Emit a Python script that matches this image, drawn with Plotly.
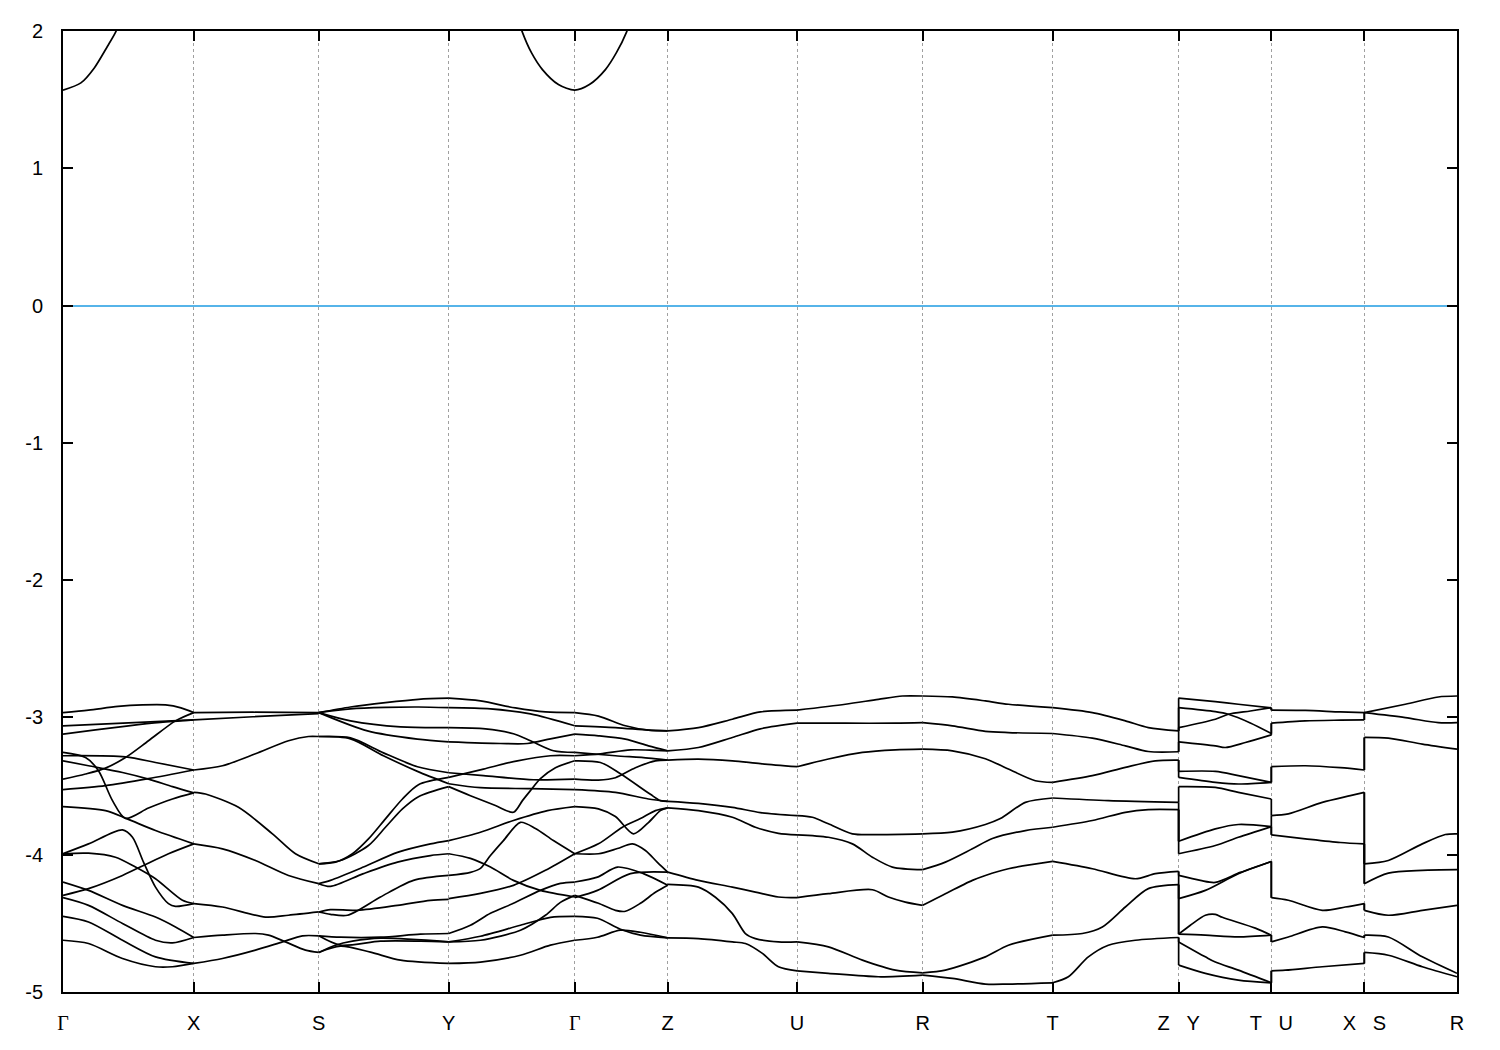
import plotly.graph_objects as go

# ---------------- data ----------------
K_NODES = [0.0, 1.308, 2.558, 3.858, 5.118, 6.048, 7.342, 8.598, 9.898, 11.158, 12.085, 13.015, 13.942]
NBSP3 = "\u00a0\u00a0\u00a0"
GAMMA = '<span style="font-family:Liberation Serif, DejaVu Serif, serif">Γ</span>'
K_LABELS = [GAMMA, "X", "S", "Y", GAMMA, "Z", "U", "R", "T",
            "Z" + NBSP3 + "Y", "T" + NBSP3 + "U", "X" + NBSP3 + "S", "R"]
Y_TICKS = [-5, -4, -3, -2, -1, 0, 1, 2]
Y_LABELS = ["-5", "-4", "-3", "-2", "-1", "0", "1", "2"]

# conduction band (k, E)
CB_1 = [(0.0, 1.569), (0.179, 1.622), (0.313, 1.731), (0.445, 1.889), (0.525, 1.990), (0.575, 2.08)]
CB_2 = [(4.555, 2.08), (4.595, 1.990), (4.685, 1.842), (4.795, 1.719), (4.955, 1.610), (5.118, 1.569),
        (5.265, 1.610), (5.425, 1.719), (5.535, 1.842), (5.635, 1.990), (5.675, 2.08)]

# valence bands, one list of curves per path segment: (k, E)
SEG_GX = [
    [(0, -2.965), (0.255, -2.947), (0.55, -2.92), (0.795, -2.909), (1.025, -2.909), (1.18, -2.93), (1.308, -2.965)],
    [(0, -3.061), (0.655, -3.040), (1.308, -3.018)],
    [(0, -3.122), (0.325, -3.091), (0.655, -3.061), (0.975, -3.036), (1.308, -3.018)],
    [(0, -3.449), (0.225, -3.412), (0.425, -3.369), (0.625, -3.292), (0.855, -3.170), (1.125, -3.025), (1.308, -2.965)],
    [(0, -3.255), (0.225, -3.292), (0.355, -3.388), (0.495, -3.606), (0.625, -3.735), (0.855, -3.66), (1.095, -3.594), (1.308, -3.55)],
    [(0, -3.650), (0.425, -3.679), (0.642, -3.739), (0.925, -3.824), (1.308, -3.921)],
    [(0, -3.279), (0.625, -3.287), (0.925, -3.328), (1.308, -3.383)],
    [(0, -3.526), (0.425, -3.497), (0.855, -3.446), (1.308, -3.383)],
    [(0, -3.316), (0.255, -3.352), (0.595, -3.401), (0.855, -3.449), (1.095, -3.504), (1.308, -3.55)],
    [(0, -3.993), (0.255, -3.921), (0.595, -3.819), (0.695, -3.873), (0.805, -4.054), (0.925, -4.236), (1.055, -4.356), (1.125, -4.376), (1.308, -4.356)],
    [(0, -3.993), (0.255, -3.989), (0.525, -4.018), (0.725, -4.090), (0.925, -4.175), (1.195, -4.332), (1.308, -4.356)],
    [(0, -4.296), (0.255, -4.247), (0.595, -4.151), (0.805, -4.078), (1.055, -3.993), (1.308, -3.921)],
    [(0, -4.199), (0.255, -4.260), (0.595, -4.369), (0.925, -4.454), (1.125, -4.526), (1.308, -4.603)],
    [(0, -4.313), (0.255, -4.369), (0.595, -4.501), (0.925, -4.623), (1.095, -4.642), (1.308, -4.603)],
    [(0, -4.449), (0.255, -4.490), (0.595, -4.623), (0.925, -4.744), (1.308, -4.792)],
    [(0, -4.623), (0.255, -4.647), (0.595, -4.756), (0.925, -4.816), (1.095, -4.816), (1.308, -4.792)],
]
SEG_XS = [
    [(1.308, -2.965), (1.9, -2.962), (2.558, -2.965)],
    [(1.308, -3.018), (1.9, -2.995), (2.558, -2.972)],
    [(1.308, -3.383), (1.595, -3.352), (1.925, -3.265), (2.255, -3.170), (2.455, -3.139), (2.558, -3.139)],
    [(1.308, -3.546), (1.425, -3.558), (1.755, -3.655), (2.095, -3.848), (2.325, -3.993), (2.558, -4.066)],
    [(1.308, -3.921), (1.595, -3.957), (1.925, -4.042), (2.255, -4.151), (2.558, -4.211)],
    [(1.308, -4.356), (1.595, -4.381), (2.025, -4.454), (2.255, -4.441), (2.558, -4.417)],
    [(1.308, -4.603), (1.595, -4.586), (1.925, -4.574), (2.055, -4.586), (2.225, -4.635), (2.425, -4.695), (2.558, -4.712)],
    [(1.308, -4.792), (1.595, -4.756), (1.925, -4.695), (2.195, -4.635), (2.395, -4.591), (2.558, -4.591)],
]
SEG_SY = [
    [(2.558, -2.965), (2.875, -2.924), (3.225, -2.892), (3.555, -2.868), (3.858, -2.860)],
    [(2.558, -2.965), (2.875, -2.938), (3.225, -2.927), (3.555, -2.924), (3.858, -2.929)],
    [(2.558, -2.965), (2.875, -3.025), (3.375, -3.069), (3.858, -3.074)],
    [(2.558, -2.965), (3.045, -3.098), (3.545, -3.158), (3.858, -3.178)],
    [(2.558, -3.139), (2.875, -3.149), (3.205, -3.258), (3.545, -3.359), (3.858, -3.403)],
    [(2.558, -3.139), (2.875, -3.156), (3.205, -3.279), (3.545, -3.393), (3.858, -3.483)],
    [(2.558, -4.066), (2.725, -4.054), (2.895, -3.993), (3.055, -3.885), (3.225, -3.739), (3.395, -3.594), (3.555, -3.490), (3.858, -3.437)],
    [(2.558, -4.066), (2.775, -4.042), (3.055, -3.933), (3.225, -3.800), (3.395, -3.666), (3.555, -3.577), (3.858, -3.504)],
    [(2.558, -4.211), (2.675, -4.187), (3.005, -4.090), (3.345, -3.983), (3.675, -3.921), (3.858, -3.897)],
    [(2.558, -4.211), (2.675, -4.231), (3.005, -4.138), (3.345, -4.054), (3.675, -4.006), (3.858, -3.993)],
    [(2.558, -4.417), (2.675, -4.400), (2.945, -4.405), (3.345, -4.369), (3.675, -4.332), (3.858, -4.325)],
    [(2.558, -4.417), (2.675, -4.434), (2.845, -4.441), (3.175, -4.308), (3.505, -4.187), (3.858, -4.151)],
    [(2.558, -4.591), (2.775, -4.601), (3.175, -4.601), (3.575, -4.579), (3.858, -4.574)],
    [(2.558, -4.591), (2.775, -4.659), (3.175, -4.630), (3.575, -4.630), (3.858, -4.635)],
    [(2.558, -4.712), (2.725, -4.659), (2.895, -4.630), (3.175, -4.608), (3.858, -4.635)],
    [(2.558, -4.712), (2.775, -4.666), (3.075, -4.710), (3.375, -4.768), (3.858, -4.792)],
]
SEG_YG = [
    [(3.858, -2.860), (4.175, -2.880), (4.525, -2.931), (4.825, -2.960), (5.118, -2.965)],
    [(3.858, -2.929), (4.275, -2.938), (4.675, -2.974), (5.118, -3.061)],
    [(3.858, -3.074), (4.225, -3.083), (4.505, -3.119), (4.675, -3.170), (4.905, -3.243), (5.118, -3.255)],
    [(3.858, -3.178), (4.375, -3.190), (4.645, -3.190), (4.875, -3.156), (5.118, -3.122)],
    [(3.858, -3.403), (4.205, -3.424), (4.705, -3.454), (5.118, -3.449)],
    [(3.858, -3.437), (4.205, -3.376), (4.545, -3.316), (4.875, -3.279), (5.118, -3.279)],
    [(3.858, -3.483), (4.175, -3.512), (4.675, -3.519), (5.118, -3.526)],
    [(3.858, -3.504), (4.075, -3.570), (4.325, -3.642), (4.505, -3.691), (4.595, -3.606), (4.675, -3.533), (4.775, -3.446), (4.925, -3.366), (5.118, -3.316)],
    [(3.858, -3.897), (4.175, -3.836), (4.505, -3.751), (4.845, -3.679), (5.118, -3.650)],
    [(3.858, -3.993), (4.075, -4.027), (4.275, -4.090), (4.505, -4.187), (4.775, -4.260), (5.118, -4.308)],
    [(3.858, -4.151), (4.075, -4.129), (4.175, -4.100), (4.275, -4.006), (4.405, -3.897), (4.575, -3.764), (4.725, -3.809), (4.905, -3.897), (5.118, -3.993)],
    [(3.858, -4.320), (4.175, -4.282), (4.505, -4.223), (4.825, -4.114), (5.118, -3.993)],
    [(3.858, -4.574), (4.075, -4.514), (4.275, -4.427), (4.505, -4.354), (4.775, -4.260), (4.975, -4.209), (5.118, -4.199)],
    [(3.858, -4.635), (4.175, -4.594), (4.575, -4.514), (4.875, -4.456), (5.118, -4.449)],
    [(3.858, -4.635), (4.175, -4.623), (4.575, -4.550), (4.825, -4.441), (4.975, -4.347), (5.118, -4.296)],
    [(3.858, -4.792), (4.175, -4.782), (4.575, -4.732), (4.875, -4.659), (5.118, -4.623)],
]
SEG_GZ = [
    [(5.118, -2.965), (5.355, -2.990), (5.625, -3.061), (5.855, -3.093), (6.048, -3.098)],
    [(5.118, -3.061), (5.525, -3.074), (5.855, -3.093), (6.048, -3.098)],
    [(5.118, -3.122), (5.355, -3.134), (5.625, -3.158), (5.855, -3.207), (6.048, -3.243)],
    [(5.118, -3.255), (5.525, -3.279), (5.855, -3.296), (6.048, -3.311)],
    [(5.118, -3.316), (5.375, -3.328), (5.575, -3.410), (5.875, -3.560), (5.975, -3.606), (6.048, -3.611)],
    [(5.118, -3.279), (5.375, -3.265), (5.675, -3.236), (5.925, -3.240), (6.048, -3.243)],
    [(5.118, -3.449), (5.355, -3.456), (5.525, -3.439), (5.725, -3.366), (5.925, -3.316), (6.048, -3.311)],
    [(5.118, -3.526), (5.525, -3.546), (5.855, -3.594), (6.048, -3.611)],
    [(5.118, -3.650), (5.355, -3.666), (5.525, -3.722), (5.705, -3.848), (5.855, -3.766), (5.975, -3.679), (6.048, -3.659)],
    [(5.118, -3.993), (5.355, -3.921), (5.595, -3.800), (5.775, -3.737), (5.925, -3.679), (6.048, -3.659)],
    [(5.118, -3.993), (5.355, -3.993), (5.545, -3.955), (5.695, -3.921), (5.825, -3.969), (5.945, -4.056), (6.048, -4.127)],
    [(5.118, -4.199), (5.345, -4.163), (5.545, -4.090), (5.805, -4.138), (6.048, -4.223)],
    [(5.118, -4.296), (5.355, -4.354), (5.525, -4.405), (5.625, -4.412), (5.775, -4.354), (5.925, -4.274), (6.048, -4.223)],
    [(5.118, -4.313), (5.345, -4.260), (5.675, -4.138), (6.048, -4.127)],
    [(5.118, -4.449), (5.345, -4.463), (5.575, -4.543), (5.775, -4.586), (6.048, -4.606)],
    [(5.118, -4.623), (5.345, -4.601), (5.575, -4.550), (5.775, -4.565), (6.048, -4.606)],
]
SEG_ZU = [
    [(6.048, -3.098), (6.355, -3.074), (6.695, -3.013), (6.975, -2.960), (7.342, -2.947)],
    [(6.048, -3.243), (6.355, -3.219), (6.695, -3.146), (6.975, -3.083), (7.342, -3.042)],
    [(6.048, -3.311), (6.355, -3.303), (6.695, -3.316), (6.975, -3.337), (7.342, -3.359)],
    [(6.048, -3.611), (6.355, -3.626), (6.695, -3.655), (6.975, -3.693), (7.342, -3.715)],
    [(6.048, -3.659), (6.355, -3.679), (6.695, -3.727), (6.925, -3.800), (7.155, -3.844), (7.342, -3.855)],
    [(6.048, -4.127), (6.355, -4.187), (6.695, -4.236), (6.925, -4.272), (7.155, -4.308), (7.342, -4.313)],
    [(6.048, -4.216), (6.355, -4.236), (6.525, -4.310), (6.695, -4.429), (6.825, -4.574), (6.925, -4.611), (7.155, -4.635), (7.342, -4.635)],
    [(6.048, -4.606), (6.355, -4.611), (6.695, -4.635), (6.825, -4.647), (6.995, -4.719), (7.155, -4.816), (7.342, -4.846)],
]
SEG_UR = [
    [(7.342, -2.947), (7.825, -2.904), (8.155, -2.868), (8.395, -2.844), (8.598, -2.844)],
    [(7.342, -3.042), (7.825, -3.042), (8.325, -3.042), (8.598, -3.038)],
    [(7.342, -3.359), (7.655, -3.303), (7.995, -3.255), (8.325, -3.236), (8.598, -3.231)],
    [(7.342, -3.715), (7.495, -3.727), (7.655, -3.775), (7.895, -3.848), (8.155, -3.853), (8.598, -3.848)],
    [(7.342, -3.855), (7.655, -3.873), (7.895, -3.921), (8.095, -4.018), (8.295, -4.090), (8.598, -4.109)],
    [(7.342, -4.313), (7.655, -4.284), (8.095, -4.255), (8.255, -4.308), (8.425, -4.345), (8.598, -4.369)],
    [(7.342, -4.635), (7.655, -4.671), (7.995, -4.768), (8.325, -4.841), (8.598, -4.860)],
    [(7.342, -4.846), (7.655, -4.864), (8.155, -4.889), (8.598, -4.877)],
]
SEG_RT = [
    [(8.598, -2.844), (8.895, -2.851), (9.225, -2.880), (9.455, -2.904), (9.898, -2.929)],
    [(8.598, -3.038), (8.895, -3.061), (9.225, -3.101), (9.455, -3.110), (9.898, -3.117)],
    [(8.598, -3.231), (8.895, -3.243), (9.225, -3.301), (9.455, -3.376), (9.725, -3.461), (9.898, -3.473)],
    [(8.598, -3.848), (8.895, -3.836), (9.225, -3.780), (9.375, -3.737), (9.625, -3.619), (9.898, -3.587)],
    [(8.598, -4.109), (8.825, -4.054), (9.095, -3.957), (9.295, -3.882), (9.625, -3.824), (9.898, -3.800)],
    [(8.598, -4.369), (8.825, -4.284), (9.095, -4.187), (9.225, -4.151), (9.455, -4.102), (9.898, -4.049)],
    [(8.598, -4.860), (8.825, -4.841), (9.225, -4.744), (9.455, -4.659), (9.898, -4.586)],
    [(8.598, -4.877), (8.895, -4.901), (9.225, -4.942), (9.455, -4.942), (9.898, -4.933)],
]
SEG_TZ = [
    [(9.898, -2.929), (10.295, -2.965), (10.625, -3.025), (10.855, -3.074), (11.158, -3.098)],
    [(9.898, -3.117), (10.295, -3.151), (10.625, -3.207), (10.855, -3.248), (11.158, -3.250)],
    [(9.898, -3.473), (10.295, -3.424), (10.625, -3.364), (10.925, -3.316), (11.158, -3.311)],
    [(9.898, -3.587), (10.455, -3.606), (11.158, -3.619)],
    [(9.898, -3.800), (10.295, -3.751), (10.625, -3.691), (10.855, -3.672), (11.158, -3.672)],
    [(9.898, -4.049), (10.295, -4.102), (10.725, -4.175), (10.925, -4.138), (11.158, -4.122)],
    [(9.898, -4.586), (10.195, -4.574), (10.395, -4.526), (10.625, -4.381), (10.855, -4.247), (11.158, -4.218)],
    [(9.898, -4.933), (10.055, -4.889), (10.255, -4.744), (10.455, -4.659), (10.725, -4.623), (11.158, -4.603)],
]
SEG_YT = [
    [(11.158, -2.860), (11.525, -2.885), (11.755, -2.904), (12.085, -2.931)],
    [(11.158, -2.929), (11.525, -2.958), (11.655, -2.977), (11.875, -3.040), (12.085, -3.117)],
    [(11.158, -3.074), (11.525, -3.013), (11.655, -2.977), (11.875, -2.953), (12.085, -2.929)],
    [(11.158, -3.178), (11.525, -3.207), (11.625, -3.219), (11.825, -3.183), (12.085, -3.127)],
    [(11.158, -3.393), (11.525, -3.393), (11.755, -3.424), (12.085, -3.473)],
    [(11.158, -3.437), (11.525, -3.473), (11.755, -3.485), (12.085, -3.473)],
    [(11.158, -3.504), (11.525, -3.510), (11.755, -3.546), (12.085, -3.594)],
    [(11.158, -3.902), (11.525, -3.812), (11.755, -3.780), (12.085, -3.795)],
    [(11.158, -3.993), (11.525, -3.933), (11.755, -3.873), (12.085, -3.795)],
    [(11.158, -4.151), (11.375, -4.187), (11.525, -4.202), (11.775, -4.129), (12.085, -4.049)],
    [(11.158, -4.320), (11.425, -4.260), (11.755, -4.138), (12.085, -4.049)],
    [(11.158, -4.579), (11.275, -4.514), (11.425, -4.441), (11.525, -4.434), (11.595, -4.456), (11.925, -4.535), (12.085, -4.586)],
    [(11.158, -4.579), (11.425, -4.586), (11.755, -4.599), (12.085, -4.586)],
    [(11.158, -4.635), (11.425, -4.744), (11.525, -4.782), (11.755, -4.841), (12.085, -4.933)],
    [(11.158, -4.804), (11.425, -4.864), (11.755, -4.913), (12.085, -4.933)],
]
SEG_UX = [
    [(12.085, -2.947), (12.425, -2.949), (12.775, -2.960), (13.015, -2.965)],
    [(12.085, -3.042), (12.425, -3.025), (12.775, -3.020), (13.015, -3.018)],
    [(12.085, -3.359), (12.425, -3.352), (12.775, -3.366), (13.015, -3.383)],
    [(12.085, -3.715), (12.255, -3.703), (12.595, -3.619), (12.875, -3.570), (13.015, -3.546)],
    [(12.085, -3.855), (12.425, -3.884), (12.775, -3.911), (13.015, -3.921)],
    [(12.085, -4.313), (12.255, -4.332), (12.595, -4.405), (12.825, -4.381), (13.015, -4.356)],
    [(12.085, -4.635), (12.255, -4.599), (12.595, -4.526), (12.825, -4.562), (13.015, -4.603)],
    [(12.085, -4.846), (12.225, -4.841), (12.595, -4.816), (13.015, -4.792)],
]
SEG_SR = [
    [(13.015, -2.965), (13.425, -2.904), (13.755, -2.851), (13.942, -2.844)],
    [(13.015, -2.965), (13.425, -3.001), (13.755, -3.038), (13.942, -3.038)],
    [(13.015, -3.146), (13.255, -3.151), (13.595, -3.194), (13.942, -3.231)],
    [(13.015, -4.066), (13.255, -4.042), (13.595, -3.921), (13.825, -3.853), (13.942, -3.848)],
    [(13.015, -4.211), (13.255, -4.134), (13.595, -4.114), (13.942, -4.109)],
    [(13.015, -4.405), (13.255, -4.441), (13.595, -4.405), (13.942, -4.369)],
    [(13.015, -4.586), (13.255, -4.599), (13.595, -4.744), (13.942, -4.864)],
    [(13.015, -4.712), (13.255, -4.732), (13.595, -4.816), (13.942, -4.889)],
]

# continuous regions of the path (separated by jumps Z|Y, T|U, X|S)
REGIONS = [
    [SEG_GX, SEG_XS, SEG_SY, SEG_YG, SEG_GZ, SEG_ZU, SEG_UR, SEG_RT, SEG_TZ],
    [SEG_YT],
    [SEG_UX],
    [SEG_SR],
]
N_BANDS = 16

# ---------------- figure ----------------
BAND_COLOR = "black"
BAND_W = 1.7

def curves_to_xy(curves):
    xs, ys = [], []
    for c in curves:
        xs += [p[0] for p in c] + [None]
        ys += [p[1] for p in c] + [None]
    return xs, ys

all_curves = [c for region in REGIONS for seg in region for c in seg]
vx, vy = curves_to_xy(all_curves)
cx, cy = curves_to_xy([CB_1, CB_2])

def expand(vals, n):
    vals = sorted(vals, reverse=True)
    m = len(vals)
    return [vals[int(round(i * (m - 1) / (n - 1)))] for i in range(n)]

jx, jy = [], []
for left, right in zip(REGIONS[:-1], REGIONS[1:]):
    ends = [c[-1] for c in left[-1]]
    starts = [c[0] for c in right[0]]
    kb = starts[0][0]
    e_l = expand([p[1] for p in ends], N_BANDS)
    e_r = expand([p[1] for p in starts], N_BANDS)
    for a, b in zip(e_l, e_r):
        if abs(a - b) > 1e-9:
            jx += [kb, kb, None]
            jy += [a, b, None]

fig = go.Figure()
fig.add_trace(go.Scatter(x=vx, y=vy, mode="lines", connectgaps=False,
                         line=dict(color=BAND_COLOR, width=BAND_W, shape="spline", smoothing=0.8),
                         hoverinfo="skip", showlegend=False))
fig.add_trace(go.Scatter(x=cx, y=cy, mode="lines", connectgaps=False,
                         line=dict(color=BAND_COLOR, width=BAND_W, shape="spline", smoothing=0.8),
                         hoverinfo="skip", showlegend=False))
fig.add_trace(go.Scatter(x=jx, y=jy, mode="lines", connectgaps=False,
                         line=dict(color=BAND_COLOR, width=BAND_W),
                         hoverinfo="skip", showlegend=False))

FONT = "Liberation Sans, Arial, Helvetica, sans-serif"
fig.update_layout(
    width=1500, height=1050,
    margin=dict(l=54.5, r=51.3, t=20, b=66, pad=0),
    paper_bgcolor="white", plot_bgcolor="white",
    font=dict(family=FONT, size=20, color="black"),
    showlegend=False,
)
fig.update_xaxes(
    range=[K_NODES[0], K_NODES[-1]],
    tickmode="array", tickvals=K_NODES, ticktext=K_LABELS,
    ticks="inside", ticklen=10, tickwidth=1.5, tickcolor="black",
    showline=True, linecolor="black", linewidth=1.7, mirror="ticks",
    showgrid=True, gridcolor="#a0a0a0", gridwidth=1, griddash="3px,3px",
    zeroline=False, ticklabelstandoff=12,
    tickfont=dict(family=FONT, size=20, color="black"),
)
fig.update_yaxes(
    range=[-5, 2],
    tickmode="array", tickvals=Y_TICKS, ticktext=Y_LABELS,
    ticks="inside", ticklen=10, tickwidth=1.5, tickcolor="black",
    showline=True, linecolor="black", linewidth=1.7, mirror="ticks",
    showgrid=False,
    zeroline=True, zerolinecolor="#56b4e9", zerolinewidth=1.5,
    ticklabelstandoff=14,
    tickfont=dict(family=FONT, size=20, color="black"),
)

fig.write_html("out.html")
